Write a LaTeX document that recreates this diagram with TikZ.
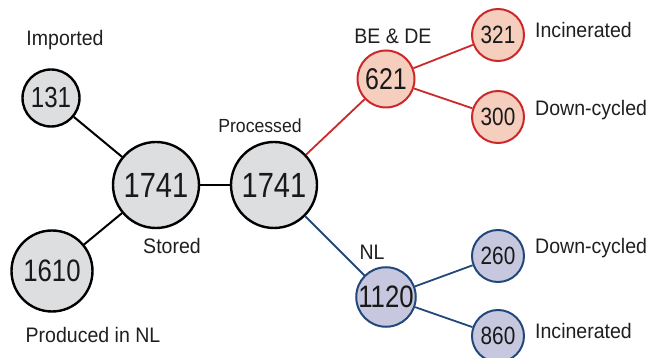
\documentclass[tikz,border=0pt]{standalone}
\usepackage{fontspec}
\setmainfont{Liberation Sans}
\newfontfamily\numfont[FakeStretch=0.83]{Liberation Sans}
\newfontfamily\tagfont[FakeStretch=0.93]{Liberation Sans}
\usepackage{xcolor}
\usetikzlibrary{positioning}

\definecolor{stockgray}{RGB}{221,222,223}
\definecolor{beline}{RGB}{204,40,42}
\definecolor{befill}{RGB}{245,206,190}
\definecolor{nlline}{RGB}{33,72,120}
\definecolor{nlfill}{RGB}{199,200,224}

\begin{document}
\begin{tikzpicture}[x=1pt,y=-1pt]
\tikzstyle{every node}+=[inner sep=0pt]
\tikzstyle{stock}=[circle,draw=black,line width=2.4pt,fill=stockgray,text=black!90]
\tikzstyle{beflow}=[circle,draw=beline,line width=2pt,fill=befill,text=black!90]
\tikzstyle{nlflow}=[circle,draw=nlline,line width=2pt,fill=nlfill,text=black!90]
\tikzstyle{tag}=[text=black!88,font=\tagfont\fontsize{21}{23}\selectfont]
\useasboundingbox (0,0) rectangle (649,358);
% stocks
\node [stock,minimum size=57pt,font=\numfont\fontsize{29}{30}\selectfont] (imp) at (51,98) {131};
\node [stock,minimum size=81pt,font=\numfont\fontsize{31}{32}\selectfont] (prod) at (52,271) {1610};
\node [stock,minimum size=86pt,font=\numfont\fontsize{35}{36}\selectfont] (stored) at (156,185) {1741};
\node [stock,minimum size=86pt,font=\numfont\fontsize{35}{36}\selectfont] (proc) at (274,185) {1741};
% BE & DE branch
\node [beflow,minimum size=57pt,font=\numfont\fontsize{30}{31}\selectfont] (bede) at (386,79) {621};
\node [beflow,minimum size=52pt,font=\numfont\fontsize{25}{26}\selectfont] (beInc) at (498,35) {321};
\node [beflow,minimum size=52pt,font=\numfont\fontsize{25}{26}\selectfont] (beDown) at (498,117) {300};
% NL branch
\node [nlflow,minimum size=57pt,font=\numfont\fontsize{31}{32}\selectfont] (nl) at (386,297) {1120};
\node [nlflow,minimum size=52pt,font=\numfont\fontsize{25}{26}\selectfont] (nlDown) at (498,256) {260};
\node [nlflow,minimum size=52pt,font=\numfont\fontsize{25}{26}\selectfont] (nlInc) at (498,336) {860};
% connectors
\draw [black,line width=2pt] (imp) -- (stored);
\draw [black,line width=2pt] (prod) -- (stored);
\draw [black,line width=2pt] (stored) -- (proc);
\draw [beline,line width=1.8pt] (proc) -- (bede);
\draw [beline,line width=1.8pt] (bede) -- (beInc);
\draw [beline,line width=1.8pt] (bede) -- (beDown);
\draw [nlline,line width=1.8pt] (proc) -- (nl);
\draw [nlline,line width=1.8pt] (nl) -- (nlDown);
\draw [nlline,line width=1.8pt] (nl) -- (nlInc);
% labels
\node [tag] (tImp) at (65,40) {Imported};
\node [tag] (tProd) at (93,335) {Produced in NL};
\node [tag] (tStored) at (172,246) {Stored};
\node [tag,font=\tagfont\fontsize{19}{21}\selectfont] (tProc) at (260,126) {Processed};
\node [tag] (tBede) at (393,36) {BE \& DE};
\node [tag] (tNl) at (372,252) {NL};
\node [tag,anchor=west] (tBeInc) at (535,30) {Incinerated};
\node [tag,anchor=west] (tBeDown) at (535,110) {Down-cycled};
\node [tag,anchor=west] (tNlDown) at (535,248) {Down-cycled};
\node [tag,anchor=west] (tNlInc) at (535,331) {Incinerated};
\end{tikzpicture}
\end{document}
